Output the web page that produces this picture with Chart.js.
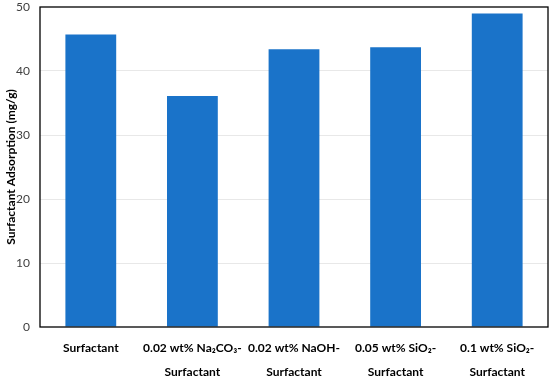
<!DOCTYPE html>
<html>
<head>
<meta charset="utf-8">
<script src="https://cdn.jsdelivr.net/npm/chart.js@4"></script>
<style>
  body { margin: 0; background: #fff; }
  #wrap { width: 550px; height: 378px; }
</style>
</head>
<body>
<div id="wrap"><canvas id="adsorption_chart"></canvas></div>
<script>
var categories = [
    ['Surfactant'],
    ['0.02 wt% Na\u2082CO\u2083-', 'Surfactant'],
    ['0.02 wt% NaOH-', 'Surfactant'],
    ['0.05 wt% SiO\u2082-', 'Surfactant'],
    ['0.1 wt% SiO\u2082-', 'Surfactant']
];
var adsorption = [45.7, 36.1, 43.4, 43.7, 49.0];
var yTicks = [0, 10, 20, 30, 40, 50];

// frame around the plot area
var frame = {
    id: 'frame',
    afterDraw: function(chart) {
        var a = chart.chartArea, ctx = chart.ctx;
        ctx.save();
        ctx.strokeStyle = '#000';
        ctx.lineWidth = 1.3;
        ctx.strokeRect(a.left, a.top, a.right - a.left, a.bottom - a.top);
        ctx.restore();
    }
};

var ctx = document.getElementById('adsorption_chart').getContext('2d');
var adsorption_chart = new Chart(ctx, {
    type: 'bar',
    data: {
        labels: categories,
        datasets: [{
            label: 'Surfactant Adsorption',
            data: adsorption,
            backgroundColor: '#1A73C9',
            barPercentage: 0.5,
            categoryPercentage: 1.0,
        }]
    },
    options: {
        responsive: true,
        maintainAspectRatio: false,
        animation: false,
        layout: { padding: { top: 0, right: 2, left: 0, bottom: 0 } },
        plugins: {
            legend: { display: false },
            tooltip: { enabled: false }
        },
        scales: {
            x: {
                grid: { display: false, drawTicks: false },
                border: { display: false },
                afterFit: function(scale) { scale.height = 51; },
                ticks: {
                    color: '#000',
                    maxRotation: 0,
                    autoSkip: false,
                    padding: 9,
                    font: { family: 'Lato, "Open Sans", sans-serif', size: 12, weight: 'bold', lineHeight: 2 }
                }
            },
            y: {
                min: 0,
                max: 50,
                afterBuildTicks: function(axis) {
                    axis.ticks = yTicks.map(function(v) { return { value: v }; });
                },
                afterFit: function(scale) {
                    scale.width = 40;
                    scale.paddingTop = 7;
                    scale.paddingBottom = 7;
                },
                grid: {
                    drawTicks: false,
                    color: function(c) {
                        return (c.tick.value === 0 || c.tick.value === 50) ? 'rgba(0,0,0,0)' : '#E8E8E8';
                    }
                },
                border: { display: false },
                ticks: {
                    color: '#404040',
                    padding: 10,
                    font: { family: 'Lato, "Open Sans", sans-serif', size: 12 }
                },
                title: {
                    display: true,
                    text: 'Surfactant Adsorption (mg/g)',
                    color: '#000',
                    padding: { top: 4, bottom: 2 },
                    font: { family: 'Lato, "Open Sans", sans-serif', size: 12, weight: 'bold' }
                }
            }
        }
    },
    plugins: [frame]
});
</script>
</body>
</html>
